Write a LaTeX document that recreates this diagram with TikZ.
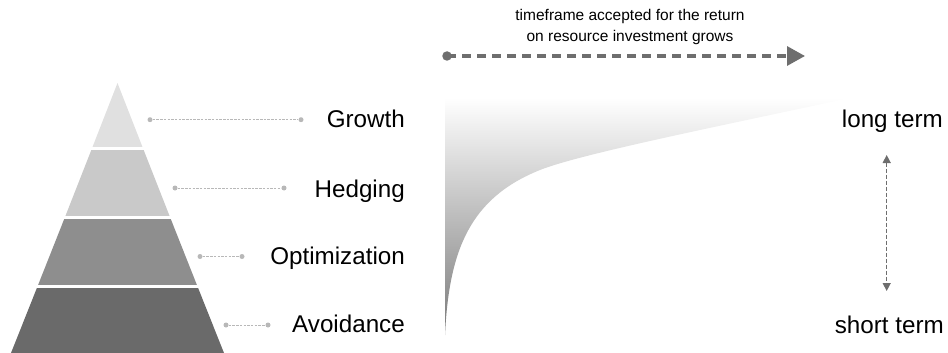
\documentclass[tikz,border=0pt]{standalone}
\usepackage{fontspec}
\setmainfont{Liberation Sans}
\usetikzlibrary{arrows.meta}
\definecolor{bandA}{HTML}{E0E0E0}
\definecolor{bandB}{HTML}{C9C9C9}
\definecolor{bandC}{HTML}{8E8E8E}
\definecolor{bandD}{HTML}{6A6A6A}
\definecolor{dotgray}{HTML}{B8B8B8}
\definecolor{arrgray}{HTML}{6E6E6E}
\definecolor{shadegray}{HTML}{7A7A7A}
\tikzset{
  biglabel/.style={font=\fontsize{24.2}{29}\selectfont, inner sep=0pt, anchor=base east, text=black},
  smalllabel/.style={font=\fontsize{15.5}{21}\selectfont, inner sep=0pt, align=center, text=black},
  leader/.style={draw=dotgray, line width=0.8pt, dash pattern=on 2.5pt off 1.2pt},
  leaderdot/.style={circle, fill=dotgray, inner sep=0pt, minimum size=5pt},
  bigarrow/.style={draw=arrgray, line width=3.2pt, dash pattern=on 9pt off 6pt, -{Triangle[length=18pt,width=19pt]}},
  termarrow/.style={draw=arrgray, line width=1.4pt, dash pattern=on 4pt off 2pt, {Triangle[length=8pt,width=8pt]}-{Triangle[length=8pt,width=8pt]}},
}
\begin{document}
\begin{tikzpicture}[x=1pt,y=-1pt]
\useasboundingbox (0,0) rectangle (948,353);
% pyramid bands
\fill[bandA] (117.5,83) -- (143,148.3) -- (92,148.3) -- cycle;
\fill[bandB] (92,148.3) -- (143,148.3) -- (170.1,217.3) -- (64.9,217.3) -- cycle;
\fill[bandC] (64.9,217.3) -- (170.1,217.3) -- (197.6,286.7) -- (37.4,286.7) -- cycle;
\fill[bandD] (37.4,286.7) -- (197.6,286.7) -- (224,353) -- (11,353) -- cycle;
\draw[white, line width=2.5pt] (80,148.3) -- (155,148.3);
\draw[white, line width=2.5pt] (55,217.3) -- (180,217.3);
\draw[white, line width=2.5pt] (25,286.7) -- (210,286.7);
% pyramid labels
\node[biglabel] (growth) at (405,128) {Growth};
\node[biglabel] (hedging) at (405,197) {Hedging};
\node[biglabel] (optim) at (405,264.5) {Optimization};
\node[biglabel] (avoid) at (405,332) {Avoidance};
% leaders
\node[leaderdot] (g1) at (150,119.7) {};
\node[leaderdot] (g2) at (301,119.7) {};
\node[leaderdot] (h1) at (175,188) {};
\node[leaderdot] (h2) at (284,188) {};
\node[leaderdot] (o1) at (200,256.5) {};
\node[leaderdot] (o2) at (242,256.5) {};
\node[leaderdot] (a1) at (226,325) {};
\node[leaderdot] (a2) at (268,325) {};
\draw[leader] (g1) -- (g2);
\draw[leader] (h1) -- (h2);
\draw[leader] (o1) -- (o2);
\draw[leader] (a1) -- (a2);
% top arrow
\node[smalllabel, anchor=base] (tf1) at (630,20.7) {timeframe accepted for the return};
\node[smalllabel, anchor=base] (tf2) at (630,41.7) {on resource investment grows};
\node[circle, fill=arrgray, inner sep=0pt, minimum size=9.5pt] (start) at (447,56) {};
\coordinate (end) at (805,56);
\draw[bigarrow] (start.center) -- (end);
% shaded curve
\shade[top color=white, bottom color=shadegray]
  (445,98) -- (445,335) .. controls (449,250) and (470,198) .. (540,170)
  .. controls (580,154) and (720,126) .. (850,98) -- cycle;
% right side
\node[biglabel] (long) at (943,128) {long term};
\node[biglabel] (short) at (944,333) {short term};
\coordinate (up) at (886.7,155);
\coordinate (down) at (886.7,291);
\draw[termarrow] (up) -- (down);
\end{tikzpicture}
\end{document}
